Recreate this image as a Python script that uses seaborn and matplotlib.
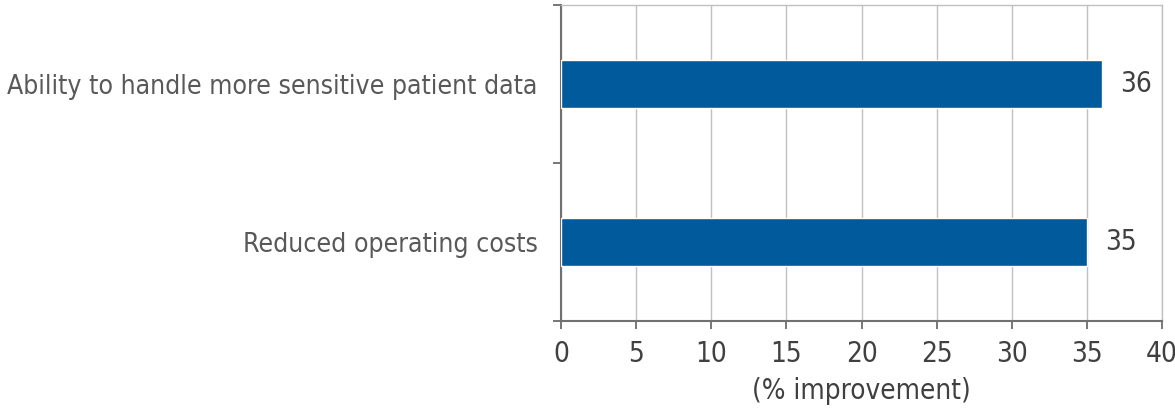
import matplotlib
matplotlib.use('Agg')
import matplotlib.pyplot as plt
import seaborn as sns
import pandas as pd

# chart values
categories = ['Ability to handle more sensitive patient data', 'Reduced operating costs']
values = [36, 35]
x_ticks = [0, 5, 10, 15, 20, 25, 30, 35, 40]

data = pd.DataFrame({'category': categories, 'value': values})

sns.set_style('white')
plt.rcParams['font.family'] = ['DejaVu Sans']
plt.rcParams['font.stretch'] = 'condensed'

fig = plt.figure(figsize=(11.75, 4.09), dpi=100)
ax = fig.add_axes([561 / 1175, 1 - 321 / 409, (1162 - 561) / 1175, 316 / 409])

sns.barplot(data=data, x='value', y='category', orient='h', color='#005A9C',
            saturation=1, width=0.30, ax=ax, zorder=3)

ax.set_xlim(0, 40)
ax.set_ylim(1.5, -0.5)
ax.set_xticks(x_ticks)
ax.set_xticklabels([str(t) for t in x_ticks], fontsize=20, color='#404040')
ax.set_yticks(range(len(categories)))
ax.set_yticklabels(categories, fontsize=19.1, color='#595959')
ax.set_yticks([-0.5, 0.5, 1.5], minor=True)
ax.tick_params(axis='y', which='major', left=False, length=0, pad=17)
ax.tick_params(axis='y', which='minor', left=True, length=6, color='#606060', width=1.2, direction='out')
ax.tick_params(axis='x', bottom=True, length=6, color='#606060', width=1.2, direction='out', pad=8)
ax.grid(axis='x', color='#c0c0c0', linewidth=1, zorder=0)
ax.set_axisbelow(True)

for side in ['top', 'right']:
    ax.spines[side].set_color('#c0c0c0')
    ax.spines[side].set_linewidth(1)
for side in ['left', 'bottom']:
    ax.spines[side].set_color('#707070')
    ax.spines[side].set_linewidth(1.5)

for i, v in enumerate(values):
    ax.text(v + 1.2, i, str(v), va='center', ha='left', fontsize=20, color='#404040')

ax.set_xlabel('(% improvement)', fontsize=20, color='#404040', labelpad=6)
ax.set_ylabel('')

fig.savefig('out.png', dpi=100)
